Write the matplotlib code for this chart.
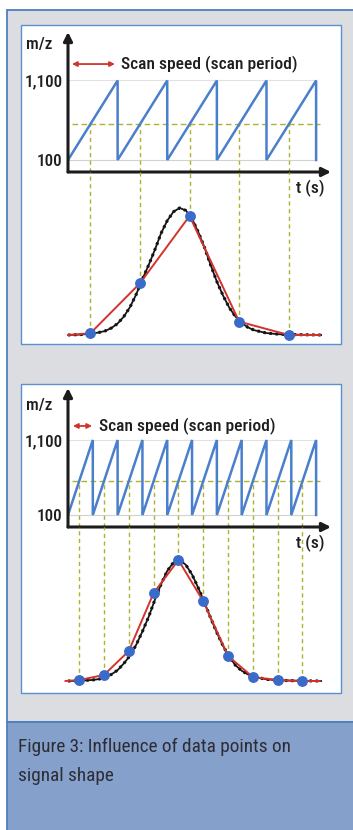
import matplotlib
matplotlib.use('Agg')
import matplotlib.pyplot as plt
from matplotlib.patches import Rectangle

W, H = 353, 830
FONT = ['Roboto Condensed', 'DejaVu Sans']

# scan ramps (m/z vs time), corner points of the saw tooth
scan1_t = [0, 2, 2, 4, 4, 6, 6, 8, 8, 10, 10]
scan1_mz = [100, 1100, 100, 1100, 100, 1100, 100, 1100, 100, 1100, 100]
scan2_t = [0, 1, 1, 2, 2, 3, 3, 4, 4, 5, 5, 6, 6, 7, 7, 8, 8, 9, 9, 10, 10]
scan2_mz = [100, 1100] * 10 + [100]
mz_level = 550

# true peak profile (black)
peak_t = [0, 0.5, 1.0, 1.25, 1.5, 1.75, 2.0, 2.25, 2.5, 2.75, 3.0, 3.25, 3.5, 3.75, 4.0, 4.25,
          4.5, 4.75, 5.0, 5.25, 5.5, 5.75, 6.0, 6.25, 6.5, 6.75, 7.0, 7.25, 7.5, 8.0, 8.5, 9.0, 10.2]
peak1_i = [0, 0.3, 1.2, 2.0, 3.2, 5.5, 9.0, 14.5, 22, 32, 44, 55, 67, 80, 90, 97,
           100, 98, 91.5, 81, 69, 55, 42, 31, 21.5, 14.5, 9.5, 6, 3.8, 1.5, 0.6, 0.3, 0]
peak2_i = [0, 0.3, 0.9, 1.6, 3.0, 5.5, 9.0, 14.5, 21, 30, 41, 53, 67, 80, 91, 98,
           100, 96, 88, 77, 65, 52, 40, 29, 20, 13, 8.5, 5.5, 3.5, 1.4, 0.6, 0.3, 0]

# acquired data points
samp1_t = [0.9, 2.9, 4.9, 6.9, 8.9]
samp1_i = [1.3, 40.7, 93.7, 10.5, 0]
samp2_t = [0.45, 1.45, 2.45, 3.45, 4.45, 5.45, 6.45, 7.45, 8.45, 9.45]
samp2_i = [0.8, 5, 24.8, 72.7, 100, 66, 20.7, 3.3, 0.8, 0]

mz_ticks = [100, 1100]
mz_labels = ['100', '1,100']
legend_text = 'Scan speed (scan period)'
caption = ['Figure 3: Influence of data points on', 'signal shape']

BLUE = '#4a7fcc'
DOT = '#3a6bc8'
RED = '#d2332c'
OLIVE = '#aeb22e'
INK = '#1e1e1e'


def box(x0, y0, x1, y1):
    return [x0 / W, 1 - y1 / H, (x1 - x0) / W, (y1 - y0) / H]


def bare(ax):
    ax.set_facecolor('none')
    for s in ax.spines.values():
        s.set_visible(False)
    ax.set_xticks([])
    ax.set_yticks([])


def arrow(ax, xy, xytext):
    ax.annotate('', xy=xy, xytext=xytext, xycoords='axes fraction',
                arrowprops=dict(arrowstyle='-|>', lw=2.2, color='#1c1c1c',
                                mutation_scale=13, shrinkA=0, shrinkB=0))


def panel(fig, top, bottom, scan_ylim, peak_top, peak_ylim, scan_t, scan_mz,
          peak_i, samp_t, samp_i, arrow_t, arrow_mz, text_t, red_start):
    sc = fig.add_axes(box(68, top, 331, bottom))
    bare(sc)
    sc.set_xlim(0, 10.6)
    sc.set_ylim(*scan_ylim)
    sc.plot([0, 10], [100, 100], color='#d2d2d2', lw=0.8)
    sc.plot([0, 10], [1100, 1100], color='#e2e2e2', lw=0.8)
    sc.plot([0.15, 10.15], [mz_level, mz_level], color=OLIVE, lw=1, ls=(0, (4, 2.5)))
    sc.vlines(samp_t, scan_ylim[0], mz_level, color=OLIVE, lw=1, ls=(0, (3, 2.5)))
    sc.plot(scan_t, scan_mz, color=BLUE, lw=1.8, solid_joinstyle='miter')
    sc.set_yticks(mz_ticks, labels=mz_labels, family=FONT, fontsize=12.3,
                  fontweight='medium', color=INK)
    sc.tick_params(axis='y', length=0, pad=4)
    arrow(sc, (0, 1), (0, 0))
    arrow(sc, (1, 0), (0, 0))
    sc.annotate('', xy=(arrow_t[1], arrow_mz), xytext=(arrow_t[0], arrow_mz),
                arrowprops=dict(arrowstyle='<|-|>', lw=1.3, color=RED,
                                mutation_scale=7, shrinkA=0, shrinkB=0))
    sc.text(text_t, arrow_mz, legend_text, family=FONT, fontsize=12.6,
            fontweight='medium', color=INK, va='center', ha='left')

    pk = fig.add_axes(box(68, bottom, 331, peak_top))
    bare(pk)
    pk.set_xlim(0, 10.6)
    pk.set_ylim(*peak_ylim)
    pk.vlines(samp_t, samp_i, peak_ylim[1], color=OLIVE, lw=1, ls=(0, (3, 2.5)))
    pk.plot(peak_t, peak_i, color='#151515', lw=1.3)
    pk.plot(peak_t, peak_i, color='#151515', lw=2.2, ls=(0, (0.8, 1.2)))
    pk.plot([red_start] + samp_t + [10.15], [0] + samp_i + [0], color=RED, lw=1.4,
            clip_on=False)
    pk.plot(samp_t, samp_i, 'o', color=DOT, ms=6.8, mec=DOT, clip_on=False)
    return sc, pk


def main():
    fig = plt.figure(figsize=(W / 100, H / 100), dpi=100, facecolor='white')

    bg = fig.add_axes([0, 0, 1, 1], zorder=-10)
    bg.set_xlim(0, W)
    bg.set_ylim(H, 0)
    bg.axis('off')
    bg.add_patch(Rectangle((7, 10), 380, 712, fc='#dcdde1', ec='#4c80be', lw=1.3))
    bg.add_patch(Rectangle((7, 722), 380, 130, fc='#86a0cc', ec='#4c80be', lw=1.3))
    bg.add_patch(Rectangle((21, 25), 320, 319, fc='white', ec='#5a8fd2', lw=1))
    bg.add_patch(Rectangle((21, 384), 320, 309, fc='white', ec='#5a8fd2', lw=1))

    for y_mz, y_t in [(45, 188), (405, 543)]:
        bg.text(39, y_mz, 'm/z', family=FONT, fontsize=12.3, fontweight='medium',
                ha='center', va='center', color=INK)
        bg.text(310, y_t, 't (s)', family=FONT, fontsize=12.6, fontweight='medium',
                ha='center', va='center', color=INK)

    bg.text(18, 747, caption[0], family=FONT, fontsize=13.9, va='center', color='#2c2d35')
    bg.text(18, 776, caption[1], family=FONT, fontsize=13.9, va='center', color='#2c2d35')

    panel(fig, 32, 172, (-51, 1710), 344, (-7.1, 128.3), scan1_t, scan1_mz,
          peak1_i, samp1_t, samp1_i, (0.16, 1.89), 1307, 2.14, 0)
    panel(fig, 388, 527, (-60, 1793), 693, (-9.9, 127.3), scan2_t, scan2_mz,
          peak2_i, samp2_t, samp2_i, (0.2, 0.97), 1287, 1.25, -0.1)

    fig.savefig('out.png', dpi=100, facecolor='white')


if __name__ == '__main__':
    main()
